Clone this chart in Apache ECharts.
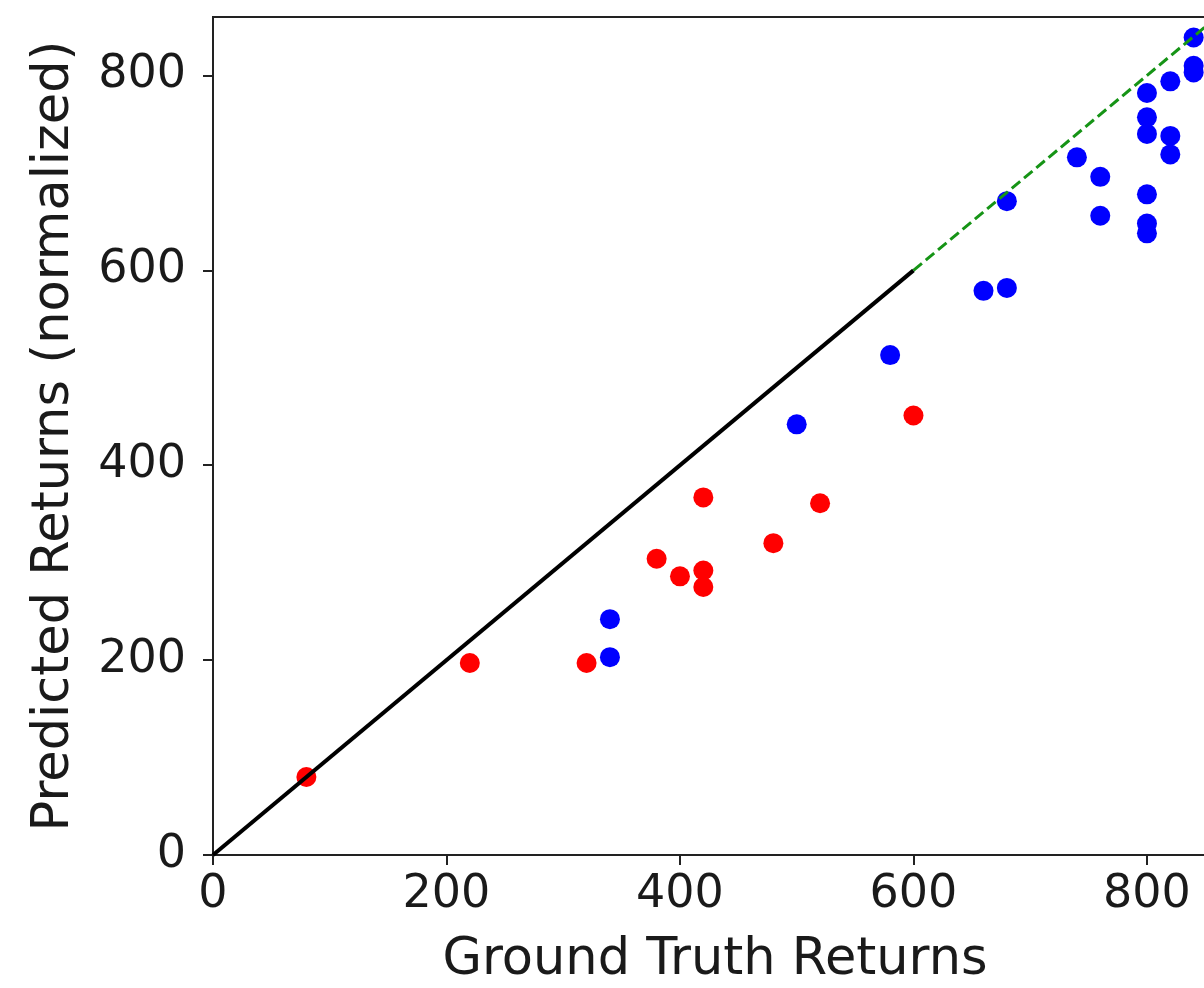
<!DOCTYPE html>
<html>
<head>
	<meta charset="utf-8">
	<title>returns scatter</title>
	<script src="https://cdn.jsdelivr.net/npm/echarts@6/dist/echarts.min.js"></script>
	<style>
		html, body { margin: 0; padding: 0; background: #fff; }
		#main { width: 1204px; height: 988px; }
	</style>
</head>
<body>
	<div id="main"></div>
	<script type="text/javascript">
		// points
		var redX = [80, 220, 320, 380, 400, 420, 420, 420, 480, 520, 600];
		var redY = [80, 197, 197, 304, 286, 367, 292, 275, 320, 361, 451];
		var blueX = [340, 340, 500, 580, 660, 680, 680, 740, 760, 760, 800, 800, 800, 800, 800, 800, 820, 820, 820, 840, 840, 840];
		var blueY = [242, 203, 442, 513, 579, 582, 671, 716, 696, 656, 782, 757, 740, 678, 648, 638, 794, 738, 719, 839, 810, 803];
		var tickValues = [0, 200, 400, 600, 800];
		var solidLine = [[0, 0], [600, 600]];
		var dashedLine = [[600, 600], [860, 860]];

		function pairs(xs, ys) {
			var out = [];
			for (var i = 0; i < xs.length; i++) out.push([xs[i], ys[i]]);
			return out;
		}

		var myChart = echarts.init(document.getElementById('main'));
		var font = 'DejaVu Sans';

		var axisCommon = {
			type: 'value',
			min: 0,
			max: 860,
			interval: 200,
			splitLine: { show: false },
			axisLine: { lineStyle: { color: '#222', width: 2 } },
			axisTick: { length: 10, lineStyle: { color: '#222', width: 2 }, customValues: tickValues },
			nameLocation: 'middle',
			nameTextStyle: { fontFamily: font, fontSize: 51, color: '#1a1a1a' }
		};

		var option = {
			animation: false,
			backgroundColor: '#fff',
			grid: {
				left: 213, top: 17, width: 1004, height: 838,
				outerBoundsMode: 'none',
				containLabel: false,
				show: true, borderColor: '#222', borderWidth: 2
			},
			xAxis: Object.assign({}, axisCommon, {
				name: 'Ground Truth Returns',
				nameGap: 80,
				axisLabel: { fontFamily: font, fontSize: 46, color: '#1a1a1a', margin: 17, customValues: tickValues }
			}),
			yAxis: Object.assign({}, axisCommon, {
				name: 'Predicted Returns (normalized)',
				nameGap: 133,
				nameRotate: 90,
				axisLabel: { fontFamily: font, fontSize: 46, color: '#1a1a1a', margin: 27, customValues: tickValues }
			}),
			series: [
				{
					type: 'scatter',
					data: pairs(redX, redY),
					symbolSize: 20,
					itemStyle: { color: '#ff0000', opacity: 1 },
					z: 2
				},
				{
					type: 'scatter',
					data: pairs(blueX, blueY),
					symbolSize: 20,
					itemStyle: { color: '#0000ff', opacity: 1 },
					z: 2
				},
				{
					type: 'line',
					data: solidLine,
					showSymbol: false,
					lineStyle: { color: '#000', width: 4 },
					z: 3
				},
				{
					type: 'line',
					data: dashedLine,
					showSymbol: false,
					lineStyle: { color: '#169416', width: 3, type: [11, 5] },
					z: 3
				}
			]
		};

		myChart.setOption(option);
	</script>
</body>
</html>
